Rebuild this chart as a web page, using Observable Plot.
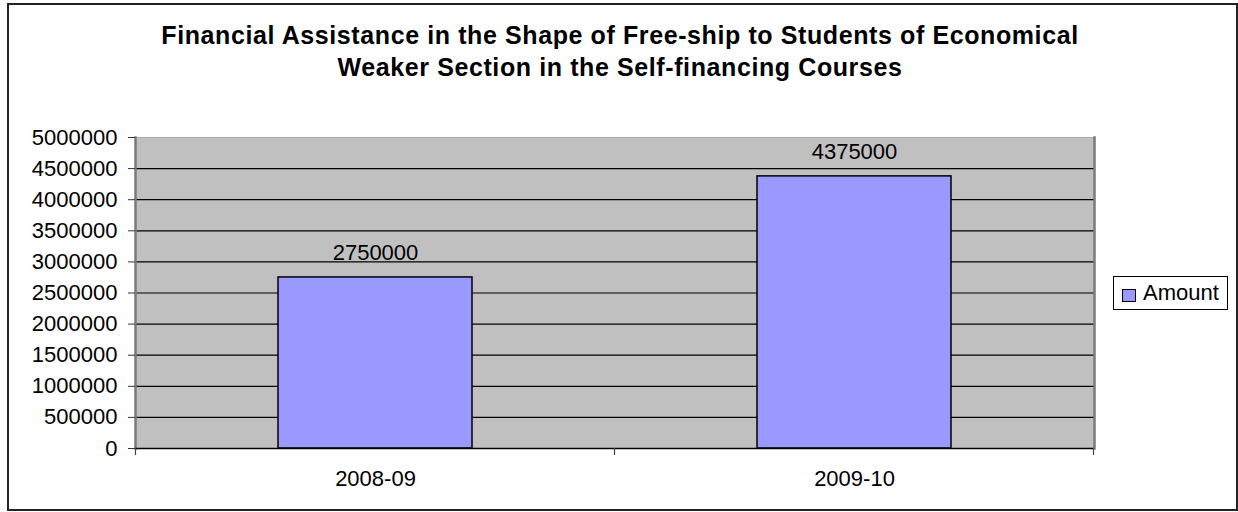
<!DOCTYPE html>
<html>
<head>
<meta charset="utf-8">
<script src="https://cdn.jsdelivr.net/npm/d3@7"></script>
<script src="https://cdn.jsdelivr.net/npm/@observablehq/plot@0.6"></script>
<style>
  html, body { margin: 0; padding: 0; background: #fff; }
  #wrap { position: relative; width: 1238px; height: 512px; font-family: "Liberation Sans", Arial, sans-serif; overflow: hidden; }
  #border { position: absolute; left: 7px; top: 3px; width: 1227px; height: 504px; border: 2px solid #222; box-sizing: content-box; pointer-events: none; }
  #title { position: absolute; left: 0; top: 19px; width: 1240px; text-align: center; font-weight: bold; font-size: 25px; line-height: 32px; letter-spacing: 0.6px; color: #000; }
  #legend { position: absolute; left: 1113px; top: 276px; width: 113px; height: 32px; border: 1px solid #000; background: #fff; font-size: 22px; }
  #legend .sw { position: absolute; left: 8px; top: 12px; width: 12px; height: 11px; border: 1px solid #000; background: #9999ff; }
  #legend .lb { position: absolute; left: 29px; top: 3px; line-height: 26px; }
  #chart { position: absolute; left: 0; top: 0; }
</style>
</head>
<body>
<div id="wrap">
  <div id="chart"></div>
  <div id="title">Financial Assistance in the Shape of Free-ship to Students of Economical<br>Weaker Section in the Self-financing Courses</div>
  <div id="legend"><div class="sw"></div><div class="lb">Amount</div></div>
  <div id="border"></div>
</div>
<script>
const years = ["2008-09", "2009-10"];
const amounts = [2750000, 4375000];
const yTicks = [0, 500000, 1000000, 1500000, 2000000, 2500000, 3000000, 3500000, 4000000, 4500000, 5000000];
const seriesName = "Amount";

const data = years.map((y, i) => ({year: y, value: amounts[i]}));
const fmt = d3.format("d");

const plot = Plot.plot({
  width: 1238,
  height: 512,
  marginTop: 137,
  marginLeft: 135,
  marginRight: 144,
  marginBottom: 64,
  style: {fontFamily: "'Liberation Sans', Arial, sans-serif", fontSize: "22px", background: "transparent", color: "#000"},
  x: {domain: years, paddingInner: 0.595, paddingOuter: 0.2975, align: 0.5, label: null},
  y: {domain: [0, 5000000], label: null},
  marks: [
    Plot.frame({fill: "#c0c0c0", stroke: "#a8a8a8", strokeWidth: 1}),
    Plot.ruleY(yTicks.filter(d => d > 0 && d < 5000000), {stroke: "#000", strokeWidth: 1.2}),
    Plot.frame({anchor: "left", stroke: "#7a7a7a", strokeWidth: 2.5}),
    Plot.frame({anchor: "right", stroke: "#7a7a7a", strokeWidth: 2.5}),
    Plot.barY(data, {x: "year", y: "value", fill: "#9999ff", stroke: "#000", strokeWidth: 1.5}),
    Plot.ruleY([0], {stroke: "#000", strokeWidth: 1.5}),
    Plot.text(data, {x: "year", y: "value", text: d => fmt(d.value), dy: -24, fill: "#000", fontSize: 22}),
    Plot.axisY({ticks: yTicks, tickFormat: fmt, tickSize: 7, tickPadding: 11, stroke: "#333", fontSize: 22, label: null}),
    Plot.axisX({tickSize: 0, tickPadding: 22, fontSize: 22, label: null})
  ]
});

document.getElementById("chart").appendChild(plot);

// category-boundary tick marks on the x axis, from the x scale
const xs = plot.scale("x");
const gap = xs.step - xs.bandwidth;
const bounds = [];
years.forEach((c, i) => {
  const start = xs.apply(c);
  if (i === 0) bounds.push(start - gap / 2);
  bounds.push(start + xs.bandwidth + gap / 2);
});
const y0 = plot.scale("y").apply(0);
const svg = d3.select(plot);
svg.append("g").selectAll("line").data(bounds).join("line")
  .attr("x1", d => d).attr("x2", d => d)
  .attr("y1", y0).attr("y2", y0 + 7)
  .attr("stroke", "#444").attr("stroke-width", 1.2);
</script>
</body>
</html>
